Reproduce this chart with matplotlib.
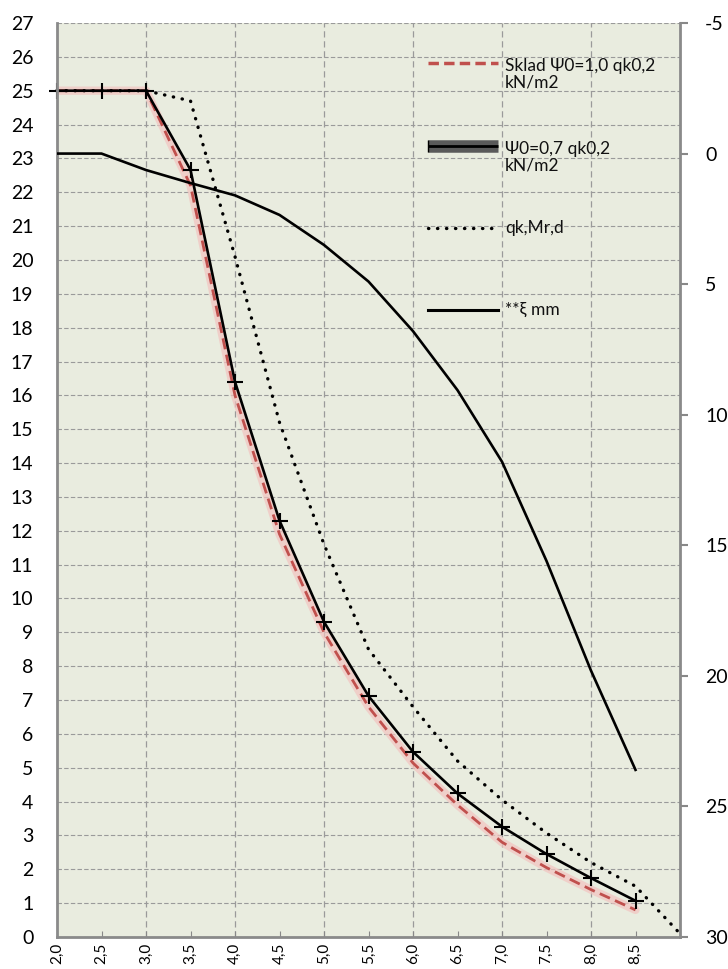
import matplotlib
matplotlib.use('Agg')
from matplotlib import pyplot as plt
from matplotlib.lines import Line2D

plt.rcParams['font.family'] = ['Lato', 'DejaVu Sans']
plt.rcParams['axes.unicode_minus'] = False  # "-5" ze zwykłym minusem

# rozpiętość (m) - oś X
spans = [2.0, 2.5, 3.0, 3.5, 4.0, 4.5, 5.0, 5.5, 6.0, 6.5, 7.0, 7.5, 8.0, 8.5]
spans_q = spans + [9.0]

# obciążenia (lewa oś)
sklad_10 = [25, 25, 25, 22.2, 16.0, 11.9, 9.0, 6.8, 5.14, 3.9, 2.8, 2.05, 1.4, 0.8]
psi_07 = [25, 25, 25, 22.66, 16.4, 12.3, 9.31, 7.12, 5.47, 4.24, 3.26, 2.45, 1.74, 1.07]
qk_mrd = [25, 25, 25, 24.7, 20.1, 15.2, 11.6, 8.5, 6.8, 5.2, 4.05, 3.07, 2.2, 1.5, 0.1]

# ugięcie (prawa oś, odwrócona)
xi_mm = [0, 0, 0.63, 1.13, 1.6, 2.35, 3.5, 4.9, 6.8, 9.06, 11.8, 15.6, 19.8, 23.6]

x_labels = [f'{s:.1f}'.replace('.', ',') for s in spans]
left_ticks = list(range(0, 28))
right_ticks = list(range(-5, 31, 5))
vgrid = [3.0, 4.0, 5.0, 6.0, 7.0, 8.0]

labels = ['Sklad Ψ0=1,0 qk0,2\nkN/m2', 'Ψ0=0,7 qk0,2\nkN/m2', 'qk,Mr,d', '**ξ mm']

fig = plt.figure(figsize=(7.28, 9.69), dpi=100)
ax = fig.add_axes([57 / 728, 1 - 937 / 969, 623 / 728, 914 / 969])
ax.set_facecolor('#E9ECDF')
ax.set_xlim(2.0, 9.0)
ax.set_ylim(0, 27)

# siatka
ax.set_yticks(left_ticks)
ax.yaxis.grid(True, color='#9a9a9a', linestyle=(0, (4, 2)), linewidth=0.8)
for v in vgrid:
    ax.axvline(v, color='#9a9a9a', linestyle=(0, (5, 3)), linewidth=0.9, zorder=0.5)
ax.set_axisbelow(True)

ax.set_xticks(spans)
ax.set_xticklabels(x_labels, rotation=90, fontsize=11)
ax.tick_params(axis='x', direction='in', length=4, color='#888888', pad=4)
ax.tick_params(axis='y', length=0, labelsize=14, pad=17)

# serie
ax.plot(spans, sklad_10, color='#F2C4C0', lw=6, alpha=0.7, solid_capstyle='round')
ax.plot(spans, sklad_10, color='#C0504D', lw=2.0, linestyle=(0, (4, 2)))
ax.plot(spans_q, qk_mrd, color='black', lw=2.4, linestyle=(0, (0.1, 2.6)),
        dash_capstyle='round', clip_on=False)
ax.plot(spans, psi_07, color='black', lw=1.9, marker='+', markersize=11,
        markeredgewidth=1.5, clip_on=False)

ax2 = ax.twinx()
ax2.set_ylim(30, -5)
ax2.set_yticks(right_ticks)
ax2.tick_params(axis='y', length=6, width=1.5, color='#888888', labelsize=14, pad=12)
ax2.plot(spans, xi_mm, color='black', lw=1.9)

for a in (ax, ax2):
    a.spines['top'].set_visible(False)
ax.spines['right'].set_visible(False)
ax2.spines['left'].set_visible(False)
ax2.spines['bottom'].set_visible(False)
for s in (ax.spines['left'], ax.spines['bottom'], ax2.spines['right']):
    s.set_color('#8a8a8a')
    s.set_linewidth(2)

# legenda (ręcznie, żeby tekst był w dwóch liniach jak w oryginale)
hx0, hx1, tx = 0.596, 0.708, 0.719
rows = [0.956, 0.865, 0.776, 0.686]
text_y = [0.944, 0.853, 0.776, 0.686]
tr = ax2.transAxes
ax2.add_line(Line2D([hx0, hx1], [rows[0]] * 2, transform=tr, color='#C0504D', lw=2.5,
                    linestyle=(0, (3, 1.5))))
ax2.add_line(Line2D([hx0, hx1], [rows[1]] * 2, transform=tr, color='#5a5a5a', lw=9,
                    solid_capstyle='butt'))
ax2.add_line(Line2D([hx0, hx1], [rows[1]] * 2, transform=tr, color='black', lw=2,
                    marker='|', markersize=8, markevery=[0], solid_capstyle='butt'))
ax2.add_line(Line2D([hx0, hx1], [rows[2]] * 2, transform=tr, color='black', lw=2.4,
                    linestyle=(0, (0.1, 2.6)), dash_capstyle='round'))
ax2.add_line(Line2D([hx0, hx1], [rows[3]] * 2, transform=tr, color='black', lw=2.2))
for lab, ty in zip(labels, text_y):
    ax2.text(tx, ty, lab, transform=tr, fontsize=12.5, va='center', ha='left',
             linespacing=1.05, color='#111111')

fig.savefig('out.png', dpi=100)
